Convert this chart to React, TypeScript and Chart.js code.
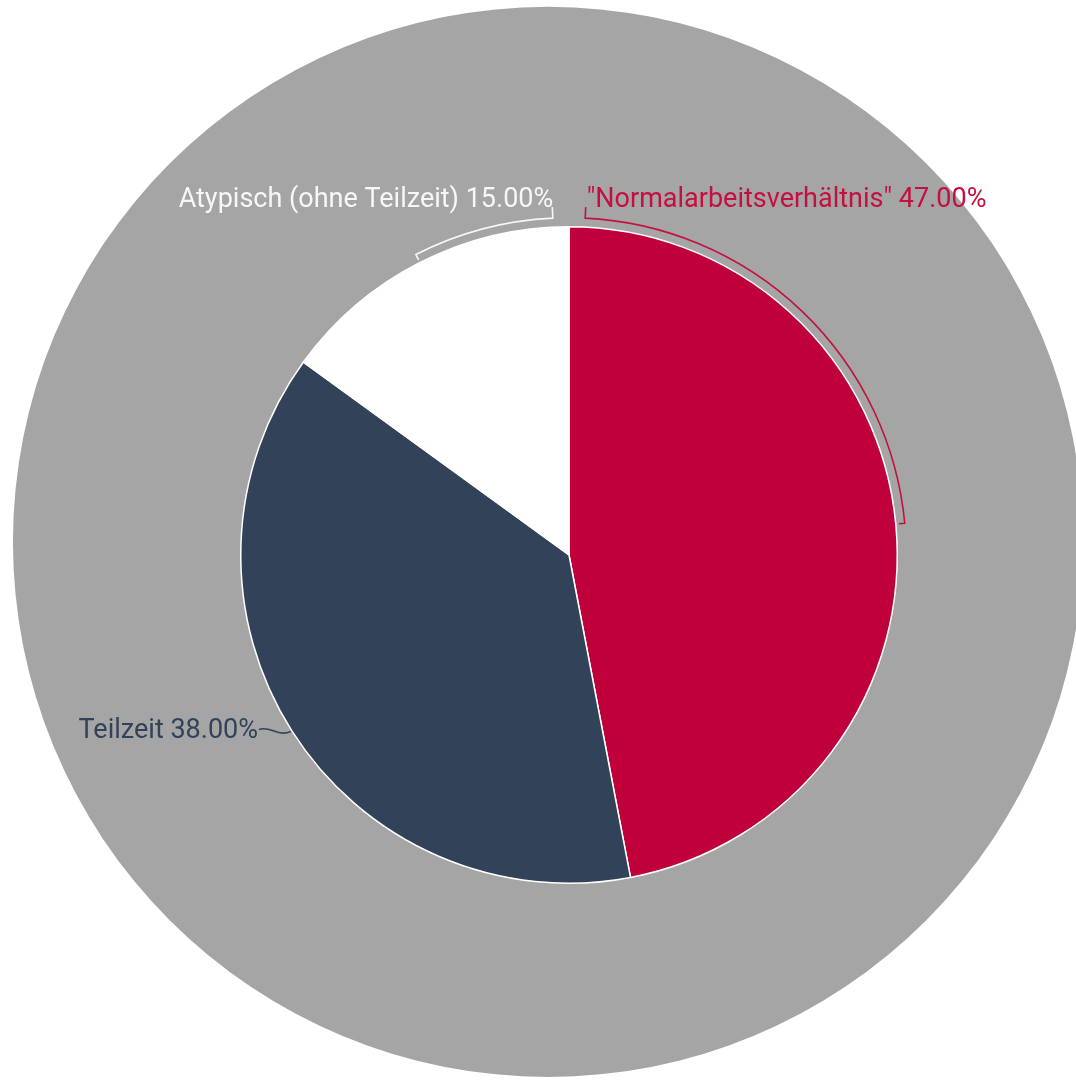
import React, { useEffect, useRef } from "react";
import { Chart, registerables } from "chart.js";

Chart.register(...registerables);

const categories: string[] = ['"Normalarbeitsverhältnis"', "Teilzeit", "Atypisch (ohne Teilzeit)"];
const shares: number[] = [47, 38, 15];
const sliceColors: string[] = ["#c0003a", "#324359", "#ffffff"];
const labelColors: string[] = ["#c4103f", "#324359", "#f7f7f7"];
// label style per slice: "start" bracket, "end" bracket, or "leader"
const labelKinds: string[] = ["start", "leader", "end"];

const W = 1076;
const H = 1083;
const FONT = "27px Roboto";

const backgroundCircle = {
  id: "backgroundCircle",
  beforeDraw(chart: any) {
    const ctx = chart.ctx;
    const meta = chart.getDatasetMeta(0);
    const arc = meta.data[0];
    if (!arc) return;
    const r = arc.outerRadius;
    ctx.save();
    ctx.fillStyle = "#a5a5a5";
    ctx.beginPath();
    ctx.arc(arc.x - 0.064 * r, arc.y - 0.04 * r, r * 1.63, 0, Math.PI * 2);
    ctx.fill();
    ctx.restore();
  },
};

const bracketLabels = {
  id: "bracketLabels",
  afterDatasetsDraw(chart: any) {
    const ctx = chart.ctx;
    const meta = chart.getDatasetMeta(0);
    const ds = chart.data.datasets[0];
    ctx.save();
    ctx.font = FONT;
    ctx.lineWidth = 1.6;
    meta.data.forEach((el: any, i: number) => {
      const { x, y, startAngle, endAngle, outerRadius } = el;
      const kind = labelKinds[i];
      const color = labelColors[i];
      const text = `${chart.data.labels[i]} ${Number(ds.data[i]).toFixed(2)}%`;
      const mid = (startAngle + endAngle) / 2;
      ctx.strokeStyle = color;
      ctx.fillStyle = color;
      if (kind === "start" || kind === "end") {
        const R = outerRadius + 9;
        const d = 0.048;
        const a0 = kind === "start" ? startAngle + d : endAngle - d;
        const tickOut = 11;
        const tickIn = 6;
        ctx.beginPath();
        const tx = x + (R + tickOut) * Math.cos(a0);
        const ty = y + (R + tickOut) * Math.sin(a0);
        ctx.moveTo(tx, ty);
        ctx.lineTo(x + R * Math.cos(a0), y + R * Math.sin(a0));
        ctx.arc(x, y, R, a0, mid, kind !== "start");
        ctx.lineTo(x + (R - tickIn) * Math.cos(mid), y + (R - tickIn) * Math.sin(mid));
        ctx.stroke();
        ctx.textBaseline = "alphabetic";
        ctx.textAlign = kind === "start" ? "left" : "right";
        ctx.fillText(text, tx + 1, ty);
      } else {
        const px = x + (outerRadius + 1) * Math.cos(mid);
        const py = y + (outerRadius + 1) * Math.sin(mid);
        const ex = px - 32;
        const ey = py - 2;
        ctx.beginPath();
        ctx.moveTo(px, py);
        ctx.bezierCurveTo(px - 14, py + 6, ex + 12, ey - 4, ex, ey);
        ctx.stroke();
        ctx.textBaseline = "middle";
        ctx.textAlign = "right";
        ctx.fillText(text, ex - 1, ey + 2);
      }
    });
    ctx.restore();
  },
};

export default function App() {
  const ref = useRef<HTMLCanvasElement | null>(null);
  useEffect(() => {
    if (!ref.current) return;
    const chart = new Chart(ref.current, {
      type: "pie",
      data: {
        labels: categories,
        datasets: [
          {
            data: shares,
            backgroundColor: sliceColors,
            borderColor: "#ffffff",
            borderWidth: 1.5,
          },
        ],
      },
      options: {
        responsive: false,
        animation: false,
        devicePixelRatio: 1,
        layout: { padding: { left: 240, right: 178, top: 226, bottom: 199 } },
        plugins: { legend: { display: false }, tooltip: { enabled: false } },
      },
      plugins: [backgroundCircle, bracketLabels],
    });
    return () => chart.destroy();
  }, []);
  return (
    <div style={{ position: "absolute", left: 0, top: 0, width: W, height: H, background: "#ffffff" }}>
      <canvas ref={ref} width={W} height={H} style={{ display: "block" }} />
    </div>
  );
}
